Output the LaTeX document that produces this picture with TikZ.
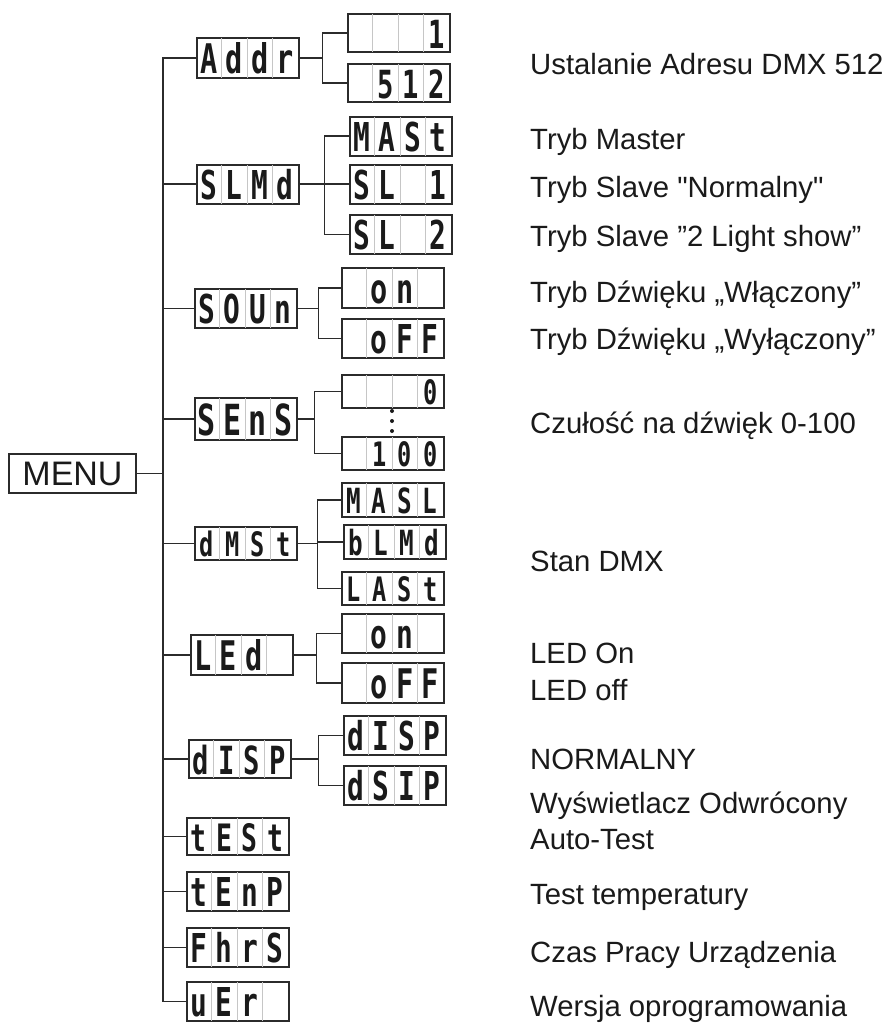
\documentclass[tikz,border=0pt]{standalone}
\usepackage{fontspec}
\setmainfont{Liberation Sans}
\newfontfamily\lblfont[Ligatures=TeXOff]{Liberation Sans}
\newfontfamily\segfont[FakeStretch=0.7]{DejaVu Sans Mono}
\usetikzlibrary{calc}
\definecolor{ink}{HTML}{2B2B2B}
\definecolor{txt}{HTML}{1A1A1A}
\tikzset{
  dispbox/.style={draw=ink, line width=1.6pt, minimum width=102pt, inner sep=0pt, fill=white},
  cellsep/.style={draw=gray!45, line width=0.8pt},
  segchar/.style={anchor=base, inner sep=0pt, text=txt},
  conn/.style={draw=ink, line width=1.6pt},
  menubox/.style={draw=ink, line width=1.6pt, minimum width=127pt, minimum height=39pt, inner sep=0pt,
     font=\fontsize{34}{40}\selectfont, text=txt},
  lbl/.style={anchor=base west, inner sep=0pt, text=txt, font=\lblfont\fontsize{29.3}{35}\selectfont},
  dotmark/.style={circle, fill=txt, inner sep=0pt, minimum size=4pt}
}
\newcommand\disp[8]{%
  \node[dispbox, minimum height=#4pt, anchor=north west] (#1) at (#2,#3) {};
  \foreach \k in {1,2,3}{\draw[cellsep] ($(#1.north west)+(\k*25.5,1)$) -- ($(#1.south west)+(\k*25.5,-1)$);}
  \pgfmathsetmacro\segfs{#4*1.02}
  \node[segchar, font=\segfont\bfseries\fontsize{\segfs}{\segfs}\selectfont] (#1-a) at ($(#1.south west)+(12.75,-0.12*#4)$) {#5};
  \node[segchar, font=\segfont\bfseries\fontsize{\segfs}{\segfs}\selectfont] (#1-b) at ($(#1.south west)+(38.25,-0.12*#4)$) {#6};
  \node[segchar, font=\segfont\bfseries\fontsize{\segfs}{\segfs}\selectfont] (#1-c) at ($(#1.south west)+(63.75,-0.12*#4)$) {#7};
  \node[segchar, font=\segfont\bfseries\fontsize{\segfs}{\segfs}\selectfont] (#1-d) at ($(#1.south west)+(89.25,-0.12*#4)$) {#8};
}
\begin{document}
\begin{tikzpicture}[x=1pt,y=-1pt]
\useasboundingbox (0,0) rectangle (890,1027);

% MENU
\node[menubox] (menu) at (72.5,473.5) {MENU};

% level 1
\disp{addr}{196}{37}{40}{A}{d}{d}{r}
\disp{slmd}{196}{164}{39}{S}{L}{M}{d}
\disp{soun}{194}{288}{39}{S}{O}{U}{n}
\disp{sens}{194}{397}{42}{S}{E}{n}{S}
\disp{dmst}{194}{526}{33}{d}{M}{S}{t}
\disp{led}{190}{634}{40}{L}{E}{d}{}
\disp{disp}{188}{739}{38}{d}{I}{S}{P}
\disp{test}{186}{817}{37}{t}{E}{S}{t}
\disp{temp}{186}{871}{39}{t}{E}{n}{P}
\disp{fhrs}{186}{927}{39}{F}{h}{r}{S}
\disp{uer}{186}{981}{39}{u}{E}{r}{}

% level 2
\disp{a1}{347}{13}{38}{}{}{}{1}
\disp{a512}{347}{63}{38}{}{5}{1}{2}
\disp{mast}{349}{116}{39}{M}{A}{S}{t}
\disp{sl1}{349}{164}{39}{S}{L}{}{1}
\disp{sl2}{349}{214}{39}{S}{L}{}{2}
\disp{on1}{341}{267}{40}{}{o}{n}{}
\disp{off1}{341}{318}{39}{}{o}{F}{F}
\disp{s0}{341}{374}{33}{}{}{}{0}
\disp{s100}{341}{436}{33}{}{1}{0}{0}
\disp{masl}{341}{482}{34}{M}{A}{S}{L}
\disp{blmd}{343}{524}{34}{b}{L}{M}{d}
\disp{last}{341}{571}{33}{L}{A}{S}{t}
\disp{on2}{341}{613}{39}{}{o}{n}{}
\disp{off2}{341}{662}{40}{}{o}{F}{F}
\disp{disp2}{343}{715}{39}{d}{I}{S}{P}
\disp{dsip}{343}{765}{39}{d}{S}{I}{P}

% dots between 0 and 100
\node[dotmark] (d1) at (392,411) {};
\node[dotmark] (d2) at (392,421) {};
\node[dotmark] (d3) at (392,431) {};

% trunk connectors
\foreach \n in {addr,slmd,soun,sens,dmst,led,disp,test,temp,fhrs,uer}{
  \draw[conn] (menu.east) -- ++(26,0) |- (\n.west);
}
% sub connectors
\foreach \n in {a1,a512}{\draw[conn] (addr.east) -- ++(23,0) |- (\n.west);}
\foreach \n in {mast,sl1,sl2}{\draw[conn] (slmd.east) -- ++(25,0) |- (\n.west);}
\foreach \n in {on1,off1}{\draw[conn] (soun.east) -- ++(21,0) |- (\n.west);}
\foreach \n in {s0,s100}{\draw[conn] (sens.east) -- ++(17,0) |- (\n.west);}
\foreach \n in {masl,blmd,last}{\draw[conn] (dmst.east) -- ++(20,0) |- (\n.west);}
\foreach \n in {on2,off2}{\draw[conn] (led.east) -- ++(23,0) |- (\n.west);}
\foreach \n in {disp2,dsip}{\draw[conn] (disp.east) -- ++(27,0) |- (\n.west);}

% labels
\node[lbl] (t1) at (530,75) {Ustalanie Adresu DMX 512};
\node[lbl] (t2) at (530,150) {Tryb Master};
\node[lbl] (t3) at (530,197) {Tryb Slave "Normalny"};
\node[lbl] (t4) at (530,246) {Tryb Slave ”2 Light show”};
\node[lbl] (t5) at (530,302) {Tryb Dźwięku „Włączony”};
\node[lbl] (t6) at (530,349) {Tryb Dźwięku „Wyłączony”};
\node[lbl] (t7) at (530,433) {Czułość na dźwięk 0-100};
\node[lbl] (t8) at (530,571) {Stan DMX};
\node[lbl] (t9) at (530,663) {LED On};
\node[lbl] (t10) at (530,700) {LED off};
\node[lbl] (t11) at (530,769) {NORMALNY};
\node[lbl] (t12) at (530,813) {Wyświetlacz Odwrócony};
\node[lbl] (t13) at (530,849) {Auto-Test};
\node[lbl] (t14) at (530,904) {Test temperatury};
\node[lbl] (t15) at (530,962) {Czas Pracy Urządzenia};
\node[lbl] (t16) at (530,1016) {Wersja oprogramowania};
\end{tikzpicture}
\end{document}
